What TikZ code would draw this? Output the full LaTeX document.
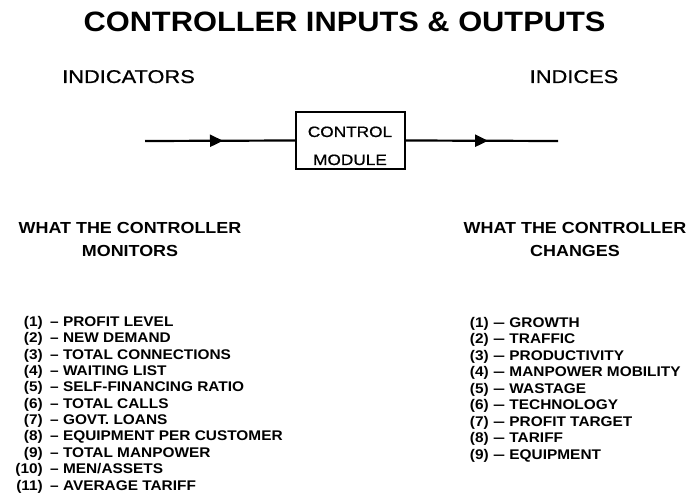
\documentclass[tikz,border=0pt]{standalone}
\usepackage{fontspec}
\setmainfont{Liberation Sans}
% slightly extended grotesque faces
\newfontfamily\titleface{Liberation Sans}[FakeStretch=1.10]
\newfontfamily\headface{Liberation Sans}[FakeStretch=1.18,FakeBold=0.7]
\newfontfamily\subface{Liberation Sans}[FakeStretch=1.12]
\newfontfamily\boxface{Liberation Sans}[FakeStretch=1.15,FakeBold=0.7]
\newfontfamily\listface{Liberation Sans}[FakeStretch=1.10]
\usetikzlibrary{arrows.meta,decorations.markings}

\begin{document}
\begin{tikzpicture}[x=1pt,y=-1pt,
  txt/.style={inner sep=0pt, anchor=base},
  titletxt/.style={txt, font=\titleface\bfseries\fontsize{28}{30}\selectfont},
  headtxt/.style={txt, font=\headface\fontsize{18.5}{20}\selectfont},
  subtxt/.style={txt, font=\subface\bfseries\fontsize{16}{18}\selectfont},
  boxtxt/.style={txt, font=\boxface\fontsize{15}{17}\selectfont},
  itemnum/.style={inner sep=0pt, anchor=base east, font=\listface\bfseries\fontsize{14}{16}\selectfont},
  itemtxt/.style={inner sep=0pt, anchor=base west, font=\listface\bfseries\fontsize{14}{16}\selectfont},
  modulebox/.style={draw, line width=2.2pt, minimum width=109pt, minimum height=57pt, inner sep=0pt},
  flow/.style={line width=2.2pt, postaction={decorate},
    decoration={markings, mark=at position #1 with {\arrow{Triangle[length=13pt,width=12pt]}}}},
]
\useasboundingbox (0,0) rectangle (695,502);

% headings
\node[titletxt] (title) at (344.5,32) {CONTROLLER INPUTS \& OUTPUTS};
\node[headtxt] (indicators) at (128.5,83) {INDICATORS};
\node[headtxt] (indices) at (574,83) {INDICES};

% control module and its input/output flow
\node[modulebox] (module) at (350.5,140.5) {};
\node[boxtxt] (ctl) at (350,137) {CONTROL};
\node[boxtxt] (mdl) at (350,165) {MODULE};
\coordinate (inL) at (145,141);
\coordinate (outR) at (558,141);
\draw[flow=78pt] (inL) -- (module.west);
\draw[flow=82pt] (module.east) -- (outR);

% column headings
\node[subtxt] (monA) at (130,233.5) {WHAT THE CONTROLLER};
\node[subtxt] (monB) at (130,257) {MONITORS};
\node[subtxt] (chgA) at (575,233.5) {WHAT THE CONTROLLER};
\node[subtxt] (chgB) at (575,257) {CHANGES};

% monitored quantities
\foreach \t [count=\i] in {PROFIT LEVEL, NEW DEMAND, TOTAL CONNECTIONS, WAITING LIST,
    SELF-FINANCING RATIO, TOTAL CALLS, GOVT. LOANS, EQUIPMENT PER CUSTOMER,
    TOTAL MANPOWER, MEN/ASSETS, AVERAGE TARIFF}{
  \pgfmathsetmacro{\yy}{326.5+16.35*(\i-1)}
  \node[itemnum] (ln\i) at (43,\yy) {(\i)};
  \node[itemtxt] (lt\i) at (50,\yy) {\textendash\ \t};
}

% changed quantities
\foreach \t [count=\i] in {GROWTH, TRAFFIC, PRODUCTIVITY, MANPOWER MOBILITY, WASTAGE,
    TECHNOLOGY, PROFIT TARGET, TARIFF, EQUIPMENT}{
  \pgfmathsetmacro{\yy}{327+16.5*(\i-1)}
  \node[itemnum] (rn\i) at (489,\yy) {(\i)};
  \node[itemtxt] (rt\i) at (493,\yy) {\scalebox{1.4}[1]{\textendash}\ \t};
}
\end{tikzpicture}
\end{document}
